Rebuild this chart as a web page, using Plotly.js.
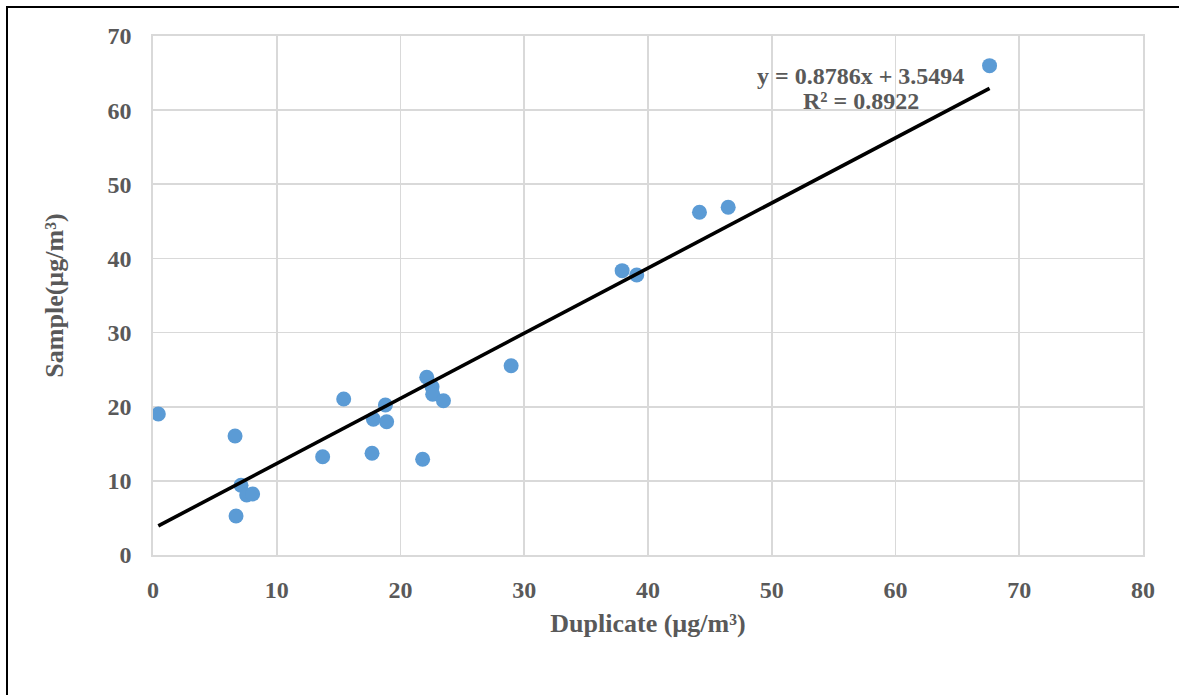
<!DOCTYPE html>
<html>
<head>
<meta charset="utf-8">
<script src="https://cdn.plot.ly/plotly-3.0.1.min.js"></script>
<style>
  html, body { margin: 0; padding: 0; background: #fff; }
  #wrap { position: relative; width: 1179px; height: 695px; overflow: hidden; }
  #chart { width: 1179px; height: 695px; }
  #frame { position: absolute; left: 6px; top: 6px; width: 1200px; height: 720px;
           border-left: 2px solid #000; border-top: 2px solid #000; pointer-events: none; }
</style>
</head>
<body>
<div id="wrap">
  <div id="chart"></div>
  <div id="frame"></div>
</div>
<script>
// Data
const duplicate = [0.43, 6.63, 6.71, 7.11, 7.57, 8.05, 13.71, 15.41, 17.70, 17.81, 18.78, 18.88,
                   21.79, 22.12, 22.55, 22.60, 23.47, 28.94, 37.91, 39.09, 44.16, 46.48, 67.6];
const sample    = [19.02, 16.05, 5.26, 9.40, 8.09, 8.23, 13.26, 21.04, 13.72, 18.30, 20.23, 17.98,
                   12.91, 23.97, 22.70, 21.68, 20.81, 25.53, 38.35, 37.77, 46.22, 46.90, 66.0];
const slope = 0.8786;
const intercept = 3.5494;
const rSquared = 0.8922;
const xTicks = [0, 10, 20, 30, 40, 50, 60, 70, 80];
const yTicks = [0, 10, 20, 30, 40, 50, 60, 70];

const xMin = Math.min(...duplicate), xMax = Math.max(...duplicate);
const trendX = [xMin, xMax];
const trendY = trendX.map(v => slope * v + intercept);

const FONT = '"Liberation Serif", "Times New Roman", Times, serif';
const GREY = '#595959';

const traces = [
  {
    x: duplicate, y: sample, type: 'scatter', mode: 'markers',
    marker: { color: '#5b9bd5', size: 15 }, showlegend: false, hoverinfo: 'x+y'
  },
  {
    x: trendX, y: trendY, type: 'scatter', mode: 'lines',
    line: { color: '#000000', width: 3.6 }, showlegend: false, hoverinfo: 'skip'
  }
];

const layout = {
  width: 1179, height: 695,
  margin: { l: 153, r: 36, t: 36, b: 140 },
  paper_bgcolor: '#ffffff', plot_bgcolor: '#ffffff',
  font: { family: FONT, color: GREY },
  xaxis: {
    range: [0, 80], tickvals: xTicks, ticktext: xTicks.map(String),
    showgrid: true, gridcolor: '#d9d9d9', gridwidth: 1.6,
    zeroline: false, showline: true, linecolor: '#d9d9d9', linewidth: 1.6, mirror: true,
    ticks: '', ticklabelstandoff: 13,
    tickfont: { family: FONT, size: 24, color: GREY, weight: 'bold' },
    title: { text: 'Duplicate (µg/m³)', standoff: 11,
             font: { family: FONT, size: 26, color: GREY, weight: 'bold' } },
    fixedrange: true
  },
  yaxis: {
    range: [0, 70], tickvals: yTicks, ticktext: yTicks.map(String),
    showgrid: true, gridcolor: '#d9d9d9', gridwidth: 1.6,
    zeroline: false, showline: true, linecolor: '#d9d9d9', linewidth: 1.6, mirror: true,
    ticks: '', ticklabelstandoff: 15,
    tickfont: { family: FONT, size: 24, color: GREY, weight: 'bold' },
    title: { text: 'Sample(µg/m³)', standoff: 36,
             font: { family: FONT, size: 26, color: GREY, weight: 'bold' } },
    fixedrange: true
  },
  annotations: [
    {
      x: 57.2, y: 64.6, xref: 'x', yref: 'y', showarrow: false,
      text: 'y = ' + slope.toFixed(4) + 'x + ' + intercept.toFixed(4),
      font: { family: FONT, size: 24, color: GREY, weight: 'bold' }, xanchor: 'center', yanchor: 'middle'
    },
    {
      x: 57.2, y: 61.2, xref: 'x', yref: 'y', showarrow: false,
      text: 'R² = ' + rSquared.toFixed(4),
      font: { family: FONT, size: 24, color: GREY, weight: 'bold' }, xanchor: 'center', yanchor: 'middle'
    }
  ]
};

Plotly.newPlot('chart', traces, layout, { displayModeBar: false, staticPlot: true });
</script>
</body>
</html>
